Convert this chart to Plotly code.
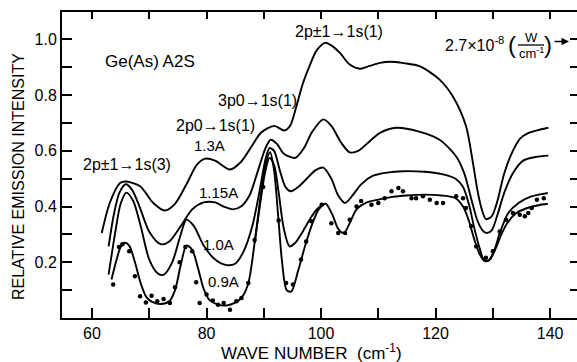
import plotly.graph_objects as go

# ---------------- data ----------------
x_13 = [61.7, 63.1, 64.9, 66.0, 68.4, 70.7, 72.7, 74.5, 76.5, 78.3, 79.8, 81.5, 84.1, 86.0, 88.0,
        89.5, 91.8, 93.6, 94.6, 95.7, 96.8, 98.0, 99.2, 100.7, 101.7, 103.3, 105.0, 106.8, 108.5,
        110.3, 112.0, 114.5, 117.2, 120.7, 123.0, 125.3, 126.5, 127.3, 128.0, 128.8, 129.8, 130.8,
        132.0, 133.5, 134.8, 136.0, 138.0, 139.7]
y_13 = [0.305, 0.413, 0.485, 0.49, 0.473, 0.413, 0.386, 0.41, 0.48, 0.55, 0.572, 0.565, 0.533, 0.56, 0.62,
        0.665, 0.69, 0.673, 0.69, 0.76, 0.84, 0.905, 0.96, 0.988, 0.98, 0.952, 0.91, 0.895, 0.905,
        0.916, 0.92, 0.915, 0.904, 0.856, 0.796, 0.69, 0.56, 0.46, 0.395, 0.355, 0.365, 0.42,
        0.52, 0.60, 0.645, 0.662, 0.675, 0.683]

x_115 = [62.9, 63.8, 64.8, 65.9, 67.0, 68.3, 70.0, 72.0, 73.5, 75.5, 77.5, 79.5, 81.5, 83.0, 84.6,
         86.0, 87.5, 89.0, 90.3, 91.2, 92.3, 93.5, 95.5, 97.0, 98.5, 100.4, 101.8, 103.5, 105.0,
         106.5, 108.5, 110.3, 113.2, 117.0, 120.7, 123.6, 125.0, 126.2, 127.3, 128.2, 128.9, 129.8,
         130.8, 132.0, 133.5, 135.3, 137.5, 139.7]
y_115 = [0.257, 0.37, 0.45, 0.48, 0.46, 0.40, 0.31, 0.265, 0.275, 0.33, 0.39, 0.415, 0.415, 0.40, 0.39,
         0.40, 0.44, 0.53, 0.61, 0.64, 0.625, 0.59, 0.575, 0.61, 0.67, 0.713, 0.69, 0.63, 0.595,
         0.60, 0.635, 0.665, 0.683, 0.67, 0.64, 0.58, 0.52, 0.43, 0.35, 0.315, 0.305, 0.315,
         0.37, 0.45, 0.52, 0.565, 0.578, 0.583]

x_10 = [62.9, 64.0, 65.0, 66.0, 67.2, 68.5, 70.0, 71.5, 72.5, 74.0, 75.5, 76.5, 77.8, 79.5, 81.5,
        83.5, 85.0, 86.5, 88.0, 89.3, 90.3, 91.0, 91.8, 92.8, 93.8, 94.7, 96.0, 97.5, 99.0, 100.4,
        101.8, 103.0, 104.2, 105.5, 107.0, 109.0, 111.5, 114.3, 118.0, 121.5, 123.5, 124.8, 125.8,
        126.8, 127.7, 128.4, 129.2, 130.2, 131.3, 132.7, 134.5, 136.5, 138.5, 139.6]
y_10 = [0.156, 0.30, 0.41, 0.45, 0.42, 0.33, 0.21, 0.16, 0.155, 0.20, 0.30, 0.353, 0.33, 0.26, 0.21,
        0.19, 0.195, 0.24, 0.33, 0.46, 0.57, 0.61, 0.60, 0.53, 0.47, 0.455, 0.47, 0.50, 0.53, 0.54,
        0.50, 0.44, 0.413, 0.44, 0.48, 0.51, 0.522, 0.527, 0.525, 0.515, 0.50, 0.47, 0.41,
        0.32, 0.25, 0.21, 0.205, 0.24, 0.31, 0.377, 0.413, 0.435, 0.445, 0.449]

x_br = [88.4, 89.3, 90.2, 91.0, 91.8, 92.6, 93.5, 94.5, 95.5, 96.8, 98.2, 99.5, 100.6]
y_br = [0.27, 0.40, 0.52, 0.575, 0.55, 0.45, 0.32, 0.257, 0.27, 0.31, 0.36, 0.395, 0.41]

x_09 = [63.4, 64.3, 65.0, 65.7, 66.5, 67.5, 68.5, 69.5, 70.5, 72.0, 73.5, 74.5, 75.5, 76.5, 77.5,
        78.5, 79.5, 80.5, 82.0, 83.5, 85.0, 86.2, 87.3, 88.4, 89.4, 90.3, 91.1, 91.8, 92.5, 93.2,
        94.0, 94.8, 96.0, 97.3, 98.5, 99.6, 100.8, 102.0, 103.0, 104.0, 105.0, 106.2, 108.0, 110.0,
        112.5, 115.0, 118.0, 121.0, 123.5, 124.8, 125.8, 126.8, 127.8, 128.6, 129.5, 130.5, 131.5,
        132.5, 134.0, 136.0, 138.0, 139.6]
y_09 = [0.138, 0.21, 0.255, 0.27, 0.26, 0.20, 0.125, 0.075, 0.058, 0.05, 0.06, 0.10, 0.19, 0.26, 0.245,
        0.18, 0.105, 0.065, 0.048, 0.045, 0.055, 0.075, 0.125, 0.27, 0.43, 0.55, 0.595, 0.53, 0.37, 0.2,
        0.1, 0.095, 0.17, 0.265, 0.34, 0.39, 0.41, 0.37, 0.32, 0.305, 0.34, 0.39, 0.415, 0.425,
        0.435, 0.44, 0.443, 0.44, 0.43, 0.40, 0.35, 0.28, 0.225, 0.204, 0.21, 0.25, 0.30,
        0.34, 0.375, 0.395, 0.405, 0.41]

x_pts = [63.7, 64.7, 65.3, 66.5, 67.5, 68.4, 69.4, 70.4, 71.4, 72.5, 73.6, 74.5, 75.3, 76.3, 77.5,
         78.2, 78.8, 80.0, 81.1, 82.0, 83.0, 84.1, 85.2, 86.1, 87.3, 88.4, 89.9, 92.6, 93.9, 95.1,
         96.5, 97.4, 98.3, 100.1, 101.8, 103.0, 104.2, 105.0, 106.2, 107.0, 108.8, 110.0, 111.1,
         112.3, 113.5, 114.3, 115.8, 116.6, 117.8, 119.0, 120.2, 121.3, 123.6, 124.8, 125.3, 126.2,
         127.1, 128.8, 130.0, 131.2, 132.3, 133.5, 134.7, 135.6, 136.2, 136.8, 137.7, 138.9]
y_pts = [0.12, 0.255, 0.265, 0.24, 0.15, 0.078, 0.056, 0.08, 0.06, 0.068, 0.054, 0.11, 0.20, 0.255, 0.24,
         0.128, 0.054, 0.084, 0.063, 0.048, 0.054, 0.03, 0.06, 0.072, 0.126, 0.28, 0.47, 0.35, 0.126, 0.12,
         0.21, 0.275, 0.347, 0.407, 0.34, 0.305, 0.305, 0.353, 0.40, 0.42, 0.407, 0.413, 0.43,
         0.455, 0.467, 0.455, 0.43, 0.43, 0.437, 0.425, 0.413, 0.413, 0.437, 0.43, 0.395, 0.33,
         0.257, 0.216, 0.24, 0.311, 0.353, 0.377, 0.371, 0.365, 0.377, 0.395, 0.425, 0.43]

x_ticks = [60, 80, 100, 120, 140]
x_ticklabels = ["60", "80", "100", "120", "140"]
x_minor_step = 10
y_ticks = [0.2, 0.4, 0.6, 0.8, 1.0]
y_ticklabels = ["0.2", "0.4", "0.6", "0.8", "1.0"]
y_minor_step = 0.1

# ---------------- figure ----------------
FONT = "Liberation Sans, Arial, sans-serif"
W, H = 577, 362
ML, MR, MT, MB = 62, 0, 12, 44
XR = [54.76, 144.7]
YR = [0.0, 1.0987]

fig = go.Figure()
line = dict(color="black", width=1.9, shape="spline", smoothing=0.8)
for xs, ys in [(x_13, y_13), (x_115, y_115), (x_10, y_10), (x_br, y_br), (x_09, y_09)]:
    fig.add_trace(go.Scatter(x=xs, y=ys, mode="lines", line=line, hoverinfo="skip", showlegend=False))
fig.add_trace(go.Scatter(x=x_pts, y=y_pts, mode="markers", marker=dict(color="black", size=4.5),
                         hoverinfo="skip", showlegend=False))
# invisible helper trace so the mirror (top/right) axes are drawn
fig.add_trace(go.Scatter(x=[x_ticks[0]], y=[y_ticks[0]], xaxis="x2", yaxis="y2", mode="markers",
                         marker=dict(opacity=0), hoverinfo="skip", showlegend=False))

axis_common = dict(showgrid=False, zeroline=False, showline=True, linecolor="black", linewidth=2,
                   ticks="inside", tickcolor="black", tickwidth=2)
fig.update_layout(
    width=W, height=H,
    margin=dict(l=ML, r=MR, t=MT, b=MB, pad=0),
    paper_bgcolor="white", plot_bgcolor="white",
    font=dict(family=FONT, size=16, color="black"),
    hovermode=False,
    xaxis=dict(range=XR, tickvals=x_ticks, ticktext=x_ticklabels, ticklen=10,
               minor=dict(dtick=x_minor_step, tick0=x_ticks[0], ticks="inside", ticklen=10,
                          tickwidth=2, tickcolor="black", showgrid=False),
               tickfont=dict(size=16), **axis_common),
    xaxis2=dict(range=XR, overlaying="x", side="top", tickmode="linear", tick0=x_ticks[0],
                dtick=x_minor_step, ticklen=7, showticklabels=False, **axis_common),
    yaxis=dict(range=YR, tickvals=y_ticks, ticktext=y_ticklabels, ticklen=10,
               minor=dict(dtick=y_minor_step, tick0=0, ticks="inside", ticklen=10,
                          tickwidth=2, tickcolor="black", showgrid=False),
               tickfont=dict(size=16), **axis_common),
    yaxis2=dict(range=YR, overlaying="y", side="right", tickmode="linear", tick0=0,
                dtick=y_minor_step, ticklen=7, showticklabels=False, **axis_common),
)

def px(x):
    return (x - ML) / (W - ML - MR)

def py(y):
    return (H - MB - y) / (H - MT - MB)

def note(text, x, y, size=16, xanchor="center", yanchor="middle", **kw):
    fig.add_annotation(text=text, x=px(x), y=py(y), xref="paper", yref="paper",
                       xanchor=xanchor, yanchor=yanchor, showarrow=False,
                       font=dict(size=size, family=FONT, color="black"), **kw)

# axis titles
note("RELATIVE EMISSION INTENSITY", 18, 177, size=16, textangle=-90)
note("WAVE NUMBER&#160;&#160;(cm<sup>-1</sup>)", 311, 352, size=17)

# labels
note("Ge(As) A2S", 150, 62, size=17)
note("2p±1→1s(3)", 127, 164, size=16)
note("2p0→1s(1)", 215, 125, size=16)
note("3p0→1s(1)", 257, 101, size=16)
note("1.3A", 210, 145, size=15)
note("1.15A", 218, 192, size=15)
note("1.0A", 218, 244, size=15)
note("0.9A", 223, 281, size=15)
note("2p±1→1s(1)", 339, 31, size=16)

# scale note: 2.7x10^-8 (W / cm^-1) ->
note("2.7×10<sup>-8</sup>", 443, 44, size=16, xanchor="left")
note("(", 512, 45, size=24)
note("W", 531, 37, size=13)
note("cm<sup>-1</sup>", 531, 53, size=13)
note(")", 548, 45, size=24)
fig.add_shape(type="line", xref="paper", yref="paper", x0=px(518), x1=px(544), y0=py(45), y1=py(45),
              line=dict(color="black", width=1.3))
fig.add_annotation(x=px(569), y=py(41.5), xref="paper", yref="paper", ax=-16, ay=0, text="",
                   showarrow=True, arrowhead=2, arrowsize=1, arrowwidth=1.5, arrowcolor="black")

fig.write_html("out.html", config={"displayModeBar": False, "staticPlot": True},
               post_script="document.body.style.margin='0';document.body.style.padding='0';")
